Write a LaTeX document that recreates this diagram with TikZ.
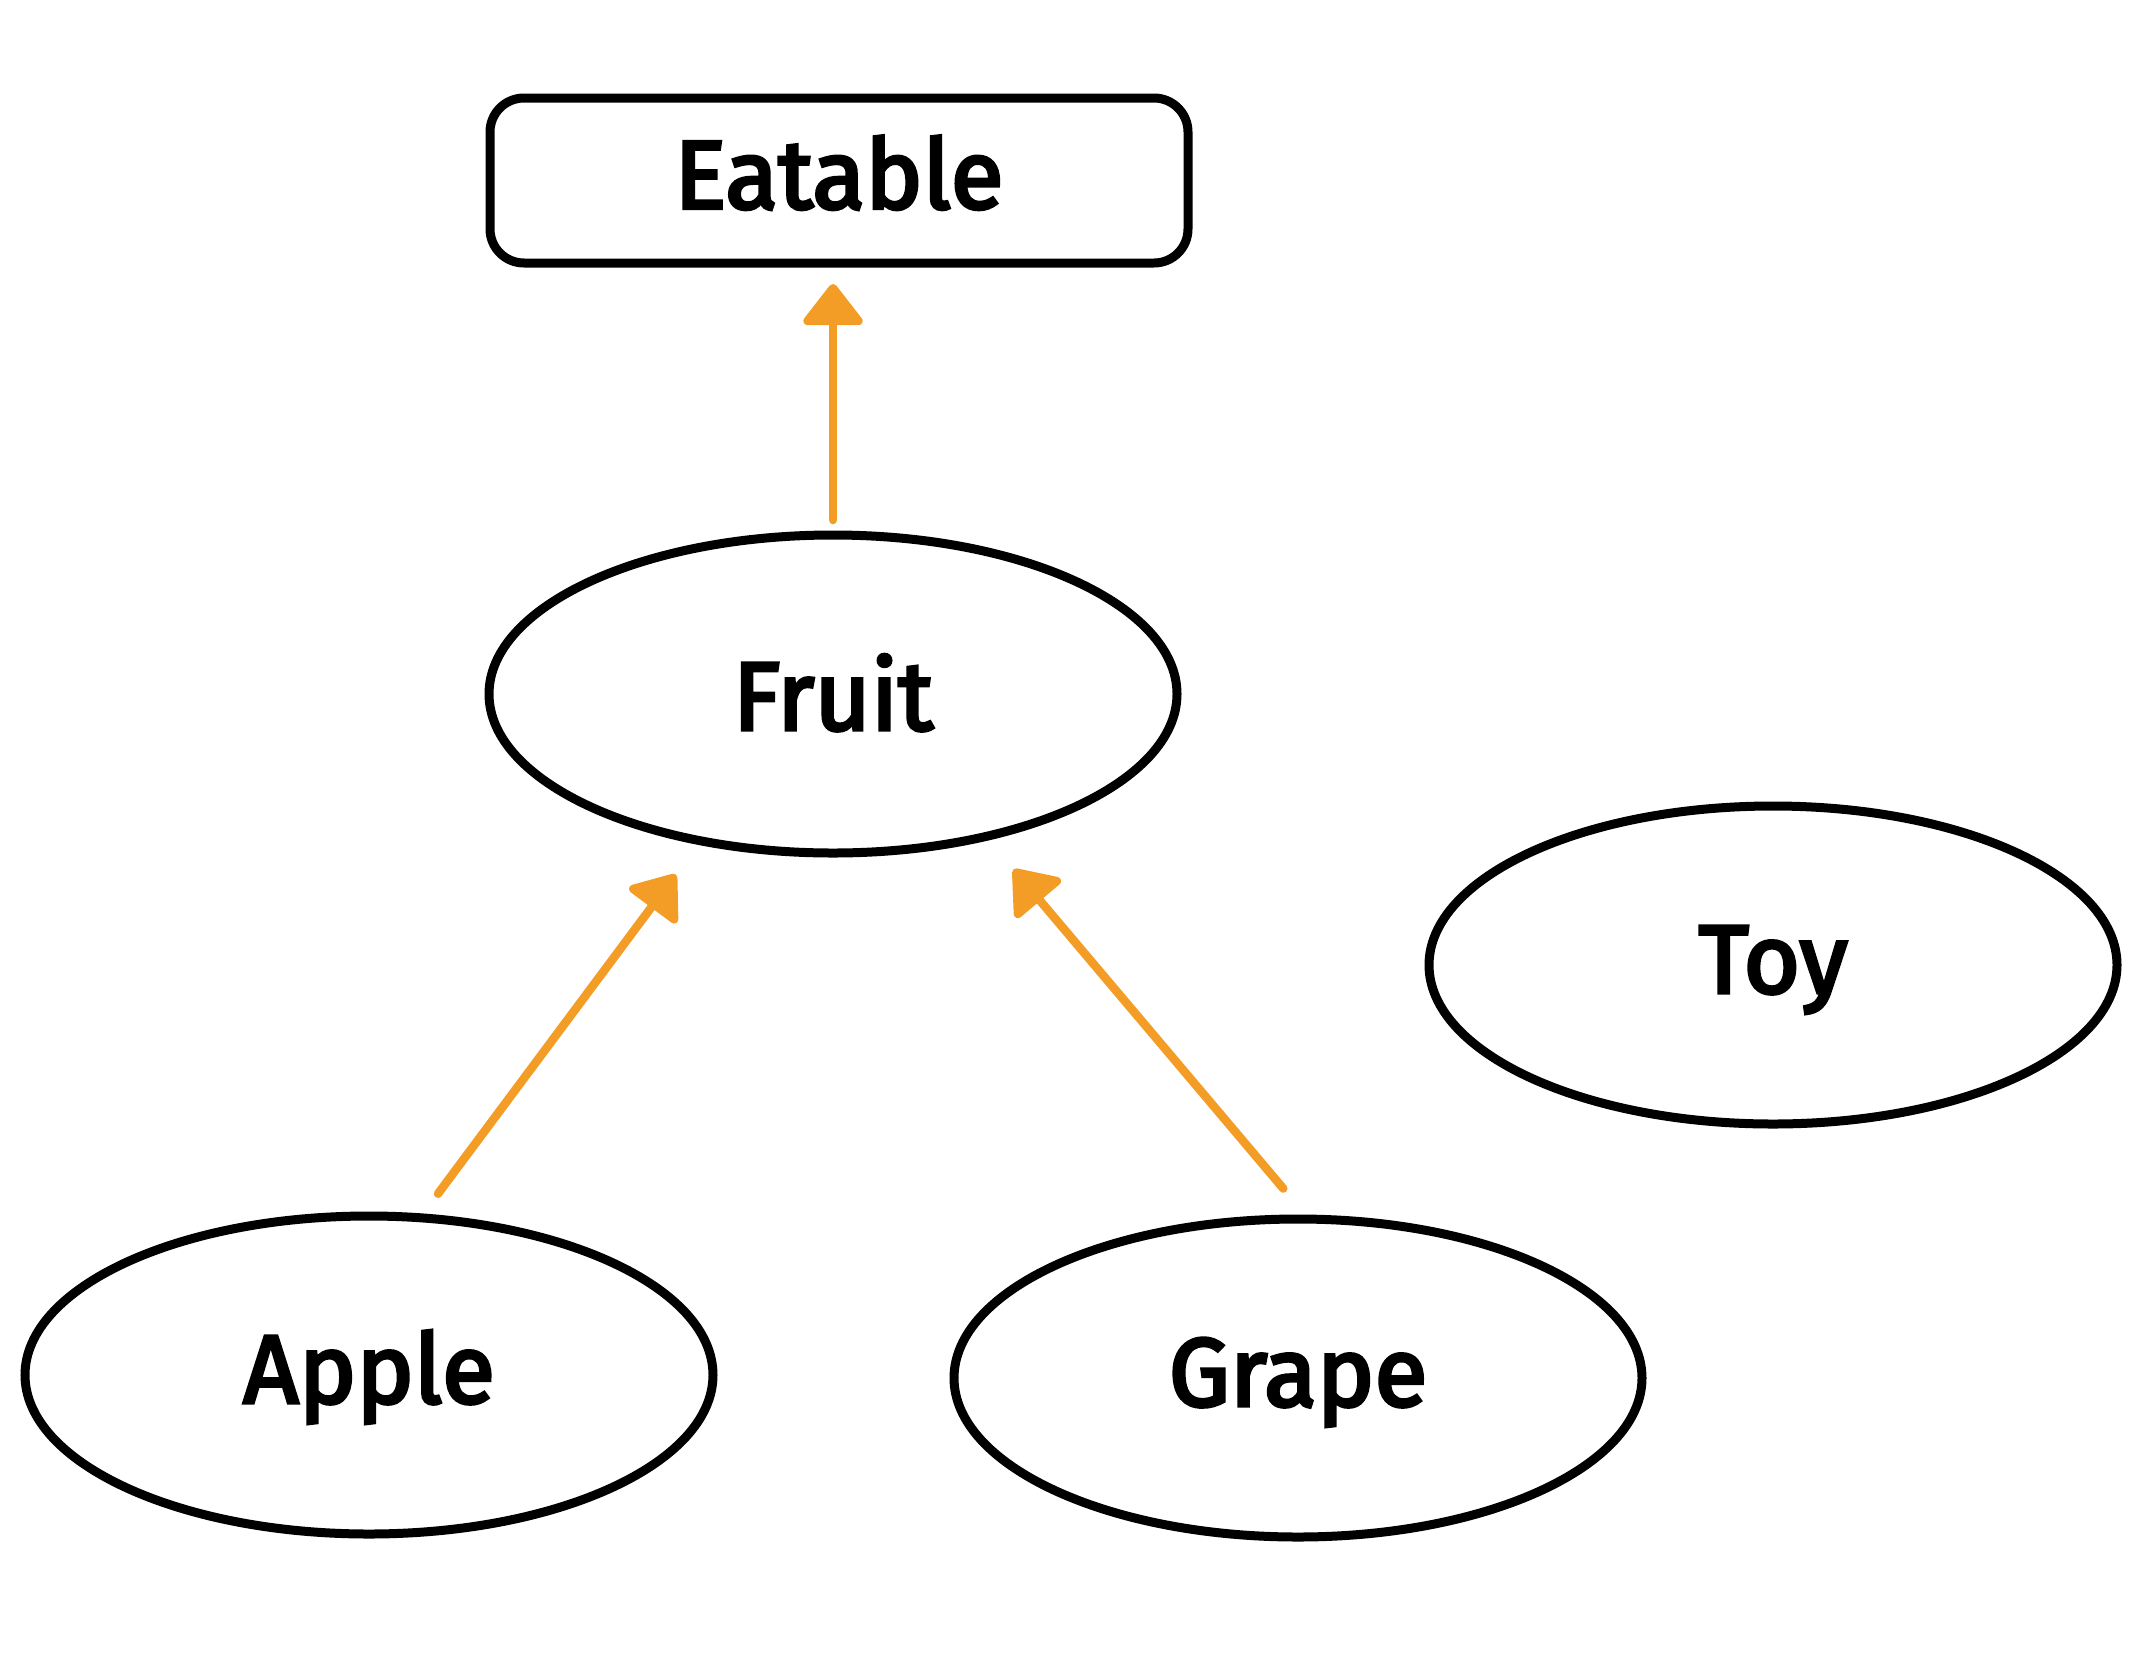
\documentclass[tikz,border=0pt]{standalone}
\usepackage{fontspec}
\setmainfont{Fira Sans}[UprightFeatures={FakeBold=3.5}]
\usetikzlibrary{arrows.meta,shapes.geometric}
\definecolor{arrorange}{HTML}{F49D26}
\begin{document}
\begin{tikzpicture}[x=1pt,y=-1pt,
  lbl/.style={font=\fontsize{97}{110}\selectfont, text=black, text height=56pt, text depth=0pt},
  ell/.style={ellipse, draw=black, line width=9pt, minimum width=688pt, minimum height=318pt, inner sep=0pt, outer sep=0pt, lbl},
  rbox/.style={rectangle, rounded corners=34pt, draw=black, line width=9pt, minimum width=698pt, minimum height=165pt, inner sep=0pt, outer sep=0pt, lbl},
  inh/.style={draw=arrorange, line width=8.5pt, line cap=round,
    -{Triangle[length=44pt,width=66pt,round]}, fill=none}
]
\useasboundingbox (0,0) rectangle (2154,1668);
\node[rbox] (eatable) at (839,180.5) {Eatable};
\node[ell, text height=72pt] (fruit) at (833,694) {Fruit};
\node[ell] (toy) at (1773,965) {Toy};
\node[ell] (apple) at (369,1375) {Apple};
\node[ell] (grape) at (1298,1378) {Grape};
\draw[inh, shorten <=15pt, shorten >=21pt] (fruit.north) -- (fruit.north |- eatable.south);
\draw[inh, shorten <=30pt, shorten >=42pt] (apple.72) -- (fruit.228.5);
\draw[inh, shorten <=40pt, shorten >=43pt] (grape.86.4) -- (fruit.317);
\end{tikzpicture}
\end{document}
